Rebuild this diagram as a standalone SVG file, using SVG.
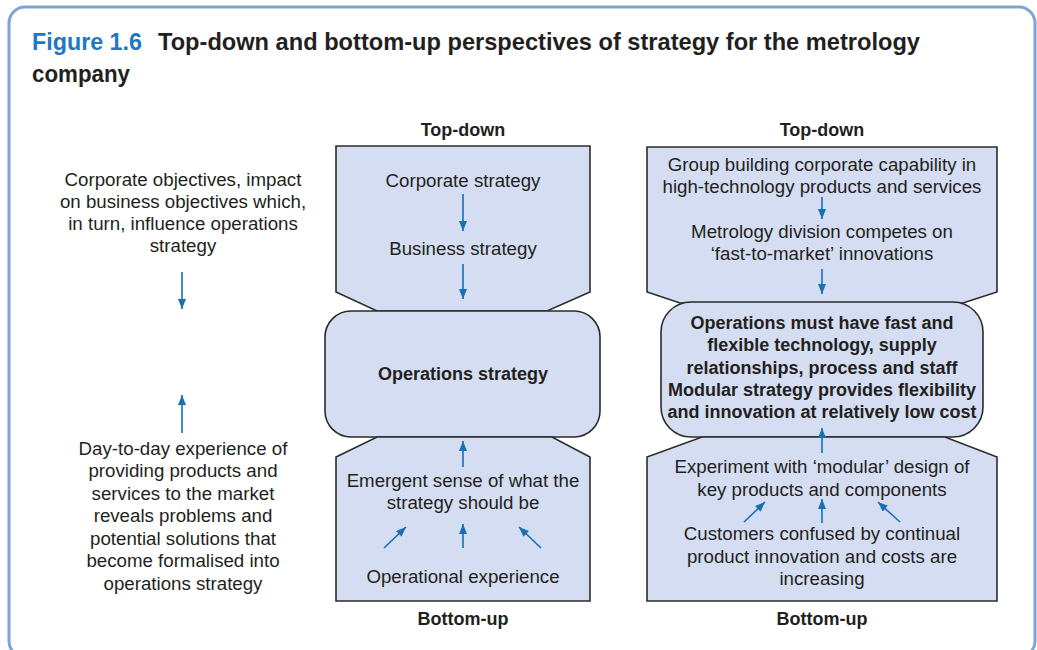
<svg xmlns="http://www.w3.org/2000/svg" width="1037" height="650" viewBox="0 0 1037 650">
<style>
.t{font-family:"Liberation Sans",Arial,sans-serif;font-size:18.7px;fill:#231f20;text-anchor:middle}
.b{font-family:"Liberation Sans",Arial,sans-serif;font-size:18px;font-weight:bold;fill:#231f20;text-anchor:middle}
.ttl{font-family:"Liberation Sans",Arial,sans-serif;font-size:24px;font-weight:bold;fill:#231f20}
.box{fill:#d4ddf1;stroke:#2b2b2b;stroke-width:1.6}
.arr{stroke:#1a6fb5;stroke-width:1.6;fill:none;marker-end:url(#ah)}
</style>
<defs>
<marker id="ah" markerUnits="userSpaceOnUse" markerWidth="10" markerHeight="12" viewBox="0 0 10 12" refX="10" refY="4" orient="auto">
<path d="M0,0 L10,4 L0,8 Z" fill="#1a6fb5"/>
</marker>
</defs>
<rect x="9" y="7" width="1026" height="650" rx="16" fill="#fff" stroke="#7fa3d6" stroke-width="3"/>
<text class="ttl" x="32" y="50" textLength="110" lengthAdjust="spacingAndGlyphs" style="fill:#1f78c1">Figure 1.6</text>
<text class="ttl" x="158" y="50" textLength="762" lengthAdjust="spacingAndGlyphs">Top-down and bottom-up perspectives of strategy for the metrology</text>
<text class="ttl" x="32" y="82" textLength="98" lengthAdjust="spacingAndGlyphs">company</text>

<g id="left-notes">
<text class="t" x="183" y="186">Corporate objectives, impact</text>
<text class="t" x="183" y="208">on business objectives which,</text>
<text class="t" x="183" y="230">in turn, influence operations</text>
<text class="t" x="183" y="252">strategy</text>
<text class="t" x="183" y="455">Day-to-day experience of</text>
<text class="t" x="183" y="477">providing products and</text>
<text class="t" x="183" y="500">services to the market</text>
<text class="t" x="183" y="522">reveals problems and</text>
<text class="t" x="183" y="545">potential solutions that</text>
<text class="t" x="183" y="567">become formalised into</text>
<text class="t" x="183" y="590">operations strategy</text>
</g>

<g id="left-top">
<text class="b" x="463" y="136">Top-down</text>
<path class="box" d="M336,146 H590 V292 L547,311 H377 L336,292 Z"/>
<text class="t" x="463" y="187">Corporate strategy</text>
<text class="t" x="463" y="255">Business strategy</text>
</g>
<g id="left-ops">
<rect class="box" x="325" y="311" width="275" height="126" rx="26"/>
<text class="b" x="463" y="380">Operations strategy</text>
</g>
<g id="left-bottom">
<path class="box" d="M377,437 H552 L590,457 V601 H336 V457 Z"/>
<text class="t" x="463" y="487">Emergent sense of what the</text>
<text class="t" x="463" y="509">strategy should be</text>
<text class="t" x="463" y="583">Operational experience</text>
<text class="b" x="463" y="625">Bottom-up</text>
</g>

<g id="right-top">
<text class="b" x="822" y="136">Top-down</text>
<path class="box" d="M647,147 H997 V292 L963,303 H680 L647,292 Z"/>
<text class="t" x="822" y="171">Group building corporate capability in</text>
<text class="t" x="822" y="193">high-technology products and services</text>
<text class="t" x="822" y="238">Metrology division competes on</text>
<text class="t" x="822" y="260">‘fast-to-market’ innovations</text>
</g>
<g id="right-ops">
<rect class="box" x="661" y="302" width="322" height="135" rx="30"/>
<text class="b" x="822" y="329">Operations must have fast and</text>
<text class="b" x="822" y="351">flexible technology, supply</text>
<text class="b" x="822" y="374">relationships, process and staff</text>
<text class="b" x="822" y="396">Modular strategy provides flexibility</text>
<text class="b" x="822" y="418">and innovation at relatively low cost</text>
</g>
<g id="right-bottom">
<path class="box" d="M702,437 H945 L997,457 V601 H647 V457 Z"/>
<text class="t" x="822" y="473">Experiment with ‘modular’ design of</text>
<text class="t" x="822" y="496">key products and components</text>
<text class="t" x="822" y="540">Customers confused by continual</text>
<text class="t" x="822" y="563">product innovation and costs are</text>
<text class="t" x="822" y="585">increasing</text>
<text class="b" x="822" y="625">Bottom-up</text>
</g>

<g id="connectors">
<line class="arr" x1="182" y1="272" x2="182" y2="309"/>
<line class="arr" x1="182" y1="433" x2="182" y2="395"/>
<line class="arr" x1="463" y1="194" x2="463" y2="231"/>
<line class="arr" x1="463" y1="264" x2="463" y2="299"/>
<line class="arr" x1="463" y1="467" x2="463" y2="441"/>
<line class="arr" x1="463" y1="548" x2="463" y2="524"/>
<line class="arr" x1="384" y1="548" x2="406" y2="527"/>
<line class="arr" x1="541" y1="548" x2="519" y2="527"/>
<line class="arr" x1="822" y1="197" x2="822" y2="219"/>
<line class="arr" x1="822" y1="269" x2="822" y2="294"/>
<line class="arr" x1="822" y1="453" x2="822" y2="428"/>
<line class="arr" x1="822" y1="523" x2="822" y2="499"/>
<line class="arr" x1="744" y1="522" x2="765" y2="502"/>
<line class="arr" x1="900" y1="522" x2="878" y2="502"/>
</g>
</svg>
